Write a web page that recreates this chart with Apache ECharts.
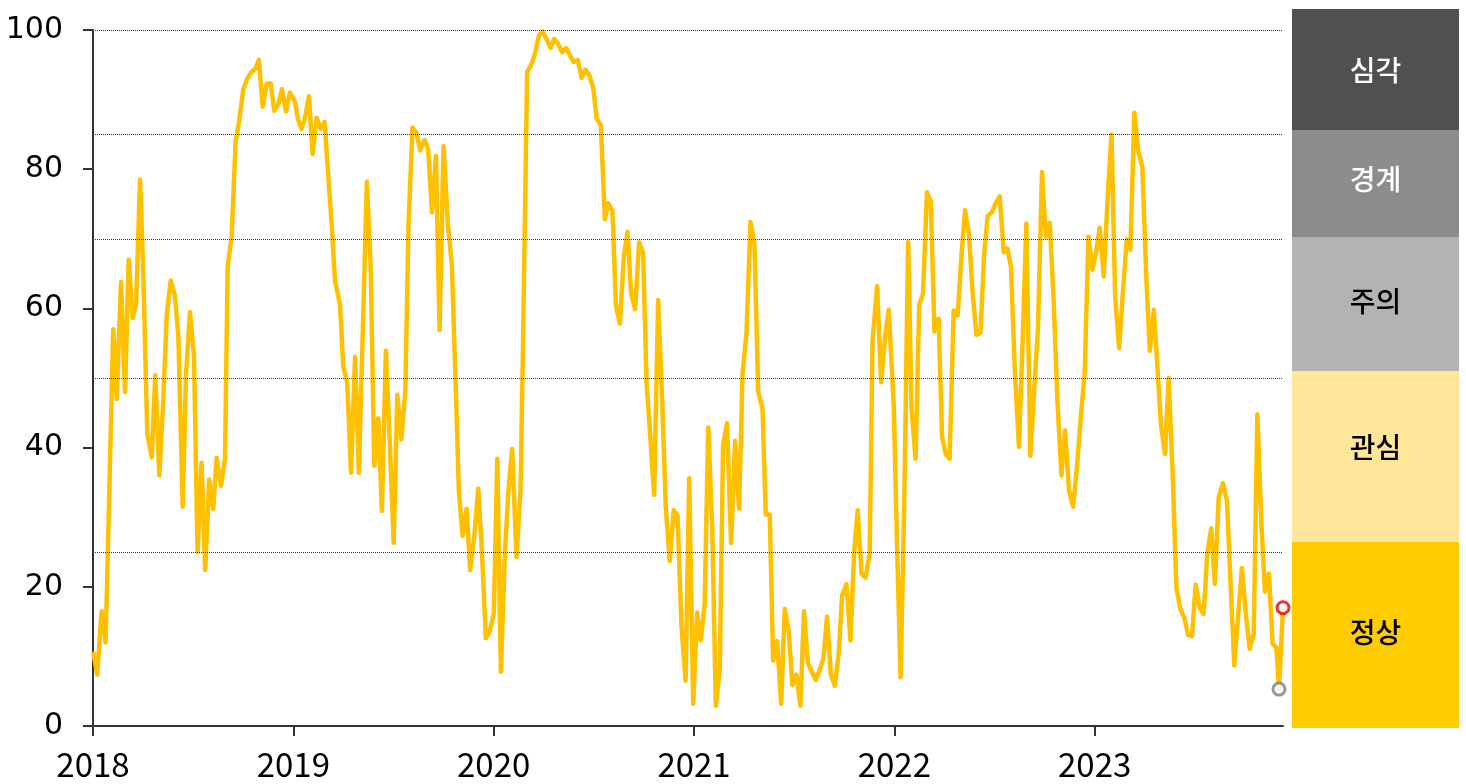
<!DOCTYPE html>
<html><head><meta charset="utf-8">
<script src="https://cdn.jsdelivr.net/npm/echarts@6/dist/echarts.min.js"></script>
<style>html,body{margin:0;padding:0;background:#fff}#c{width:1466px;height:784px}</style>
</head><body><div id="c"></div>
<script>
// [decimal year, index value]
const s2018 = [[2018.001,10.7],[2018.021,7.4],[2018.043,16.5],[2018.063,12],[2018.101,57],[2018.118,47],[2018.140,63.8],[2018.160,48],[2018.178,67],[2018.198,58.6],[2018.215,60.6],[2018.235,78.5],[2018.251,65],[2018.271,42],[2018.293,38.6],[2018.311,50.4],[2018.331,36],[2018.351,47],[2018.368,59],[2018.388,64],[2018.409,61.8],[2018.426,56],[2018.448,31.5],[2018.464,50.4],[2018.484,59.5],[2018.504,53.3],[2018.522,25],[2018.542,37.8],[2018.560,22.4],[2018.580,35.4],[2018.600,31.2],[2018.617,38.5],[2018.639,34.5],[2018.659,38.4],[2018.672,66],[2018.692,70.3],[2018.712,84],[2018.729,86.8],[2018.750,91.4],[2018.770,93],[2018.792,94],[2018.812,94.5],[2018.828,95.7],[2018.847,89],[2018.867,92.3],[2018.887,92.3],[2018.905,88.4],[2018.925,89.3],[2018.943,91.5],[2018.963,88.3],[2018.983,91]];
const s2019 = [[2019.008,89.7],[2019.024,87.1],[2019.041,85.8],[2019.058,87.4],[2019.078,90.5],[2019.096,82.2],[2019.116,87.4],[2019.136,85.8],[2019.156,86.8],[2019.174,79.3],[2019.191,72.2],[2019.208,64],[2019.233,60.5],[2019.249,51.7],[2019.269,49.4],[2019.288,36.4],[2019.308,53],[2019.327,36.4],[2019.349,59.1],[2019.367,78.2],[2019.386,66.3],[2019.404,37.4],[2019.424,44.2],[2019.442,30.9],[2019.462,53.9],[2019.482,40.3],[2019.501,26.3],[2019.519,47.6],[2019.539,41.2],[2019.559,48.1],[2019.575,72.2],[2019.595,86],[2019.615,85.2],[2019.633,82.7],[2019.655,84.2],[2019.673,82.9],[2019.692,73.8],[2019.712,81.9],[2019.730,56.9],[2019.750,83.3],[2019.771,72.2],[2019.791,66.3],[2019.810,49.4],[2019.826,33.8],[2019.845,27.3],[2019.865,31.2],[2019.883,22.4],[2019.903,27.3],[2019.923,34.1],[2019.941,25.3],[2019.961,12.6],[2019.981,13.6]];
const s2020 = [[2020.001,16.2],[2020.018,38.4],[2020.036,7.8],[2020.056,24.7],[2020.072,33.1],[2020.092,39.8],[2020.114,24.3],[2020.134,33.8],[2020.147,55.9],[2020.167,94],[2020.186,94.9],[2020.206,96.6],[2020.226,99.2],[2020.244,99.8],[2020.264,98.7],[2020.284,97.4],[2020.302,98.7],[2020.322,98],[2020.342,96.8],[2020.362,97.4],[2020.380,96.4],[2020.400,95.4],[2020.420,95.7],[2020.439,93.1],[2020.459,94.3],[2020.477,93.5],[2020.497,91.7],[2020.514,87.3],[2020.535,86.3],[2020.555,72.8],[2020.571,75.1],[2020.593,74],[2020.610,60.5],[2020.630,57.8],[2020.650,67.6],[2020.668,71],[2020.686,62.1],[2020.706,59.9],[2020.726,69.5],[2020.746,68],[2020.763,49.4],[2020.783,41],[2020.801,33.2],[2020.821,61.2],[2020.841,46.8],[2020.859,31.5],[2020.879,23.7],[2020.899,31],[2020.918,30.2],[2020.938,14.2],[2020.958,6.5],[2020.976,35.6],[2020.996,3.2]];
const s2021 = [[2021.016,16.3],[2021.034,12.3],[2021.053,17.5],[2021.071,42.9],[2021.091,28.6],[2021.109,2.9],[2021.129,8.4],[2021.145,40.3],[2021.165,43.5],[2021.185,26.3],[2021.205,41],[2021.225,31.2],[2021.242,50.4],[2021.262,56.5],[2021.282,72.4],[2021.302,69.2],[2021.320,48.1],[2021.342,45.6],[2021.358,30.4],[2021.378,30.4],[2021.395,9.4],[2021.415,12.2],[2021.435,3.2],[2021.453,16.8],[2021.473,13.6],[2021.491,5.9],[2021.511,7.4],[2021.531,2.9],[2021.549,16.5],[2021.569,9],[2021.588,7.8],[2021.608,6.6],[2021.628,8.1],[2021.646,9.7],[2021.664,15.7],[2021.683,7.4],[2021.703,5.8],[2021.723,10.7],[2021.739,18.7],[2021.761,20.4],[2021.781,12.3],[2021.799,24.8],[2021.817,31],[2021.836,21.9],[2021.856,21.3],[2021.877,24.8],[2021.891,55.2],[2021.914,63.2],[2021.934,49.4],[2021.954,55.9],[2021.972,59.8],[2021.997,46.1]];
const s2022 = [[2022.013,26.6],[2022.031,7],[2022.049,31.2],[2022.069,69.5],[2022.086,45.5],[2022.106,38.4],[2022.124,60.5],[2022.143,62.1],[2022.163,76.7],[2022.182,75.4],[2022.200,56.7],[2022.221,58.5],[2022.238,41.6],[2022.257,39],[2022.276,38.4],[2022.296,59.7],[2022.316,59],[2022.335,67.6],[2022.353,74.1],[2022.373,70.5],[2022.390,62.4],[2022.410,56.2],[2022.430,56.5],[2022.448,67.6],[2022.466,73.3],[2022.486,73.8],[2022.506,75.1],[2022.526,76.1],[2022.546,68.1],[2022.564,68.6],[2022.582,66],[2022.602,50.7],[2022.622,40.1],[2022.641,55.9],[2022.659,72.2],[2022.679,38.8],[2022.699,48.7],[2022.717,57.2],[2022.737,79.6],[2022.756,70.3],[2022.776,72.3],[2022.796,60.5],[2022.814,46.8],[2022.834,36],[2022.852,42.5],[2022.872,33.8],[2022.892,31.5],[2022.912,37.4],[2022.932,44.8],[2022.950,50.7],[2022.969,70.3],[2022.989,65.6]];
const s2023 = [[2023.009,68.4],[2023.025,71.6],[2023.045,64.6],[2023.064,75.4],[2023.084,85],[2023.102,61.8],[2023.122,54.3],[2023.141,62.4],[2023.160,69.9],[2023.178,68.4],[2023.198,88.1],[2023.218,82.6],[2023.238,80.3],[2023.258,64.2],[2023.275,53.9],[2023.295,59.8],[2023.315,50.7],[2023.331,43.2],[2023.351,39.1],[2023.369,50],[2023.389,36.4],[2023.408,19.8],[2023.428,16.8],[2023.448,15.5],[2023.466,13.1],[2023.486,12.9],[2023.504,20.3],[2023.524,17],[2023.544,16.1],[2023.562,24.8],[2023.582,28.4],[2023.600,20.4],[2023.619,32.8],[2023.640,34.9],[2023.660,32.4],[2023.679,20],[2023.697,8.7],[2023.715,15.5],[2023.735,22.7],[2023.754,16.2],[2023.774,11.1],[2023.794,13.3],[2023.812,44.8],[2023.832,29.2],[2023.850,19.3],[2023.870,21.9],[2023.888,11.8],[2023.907,11.3],[2023.920,5.3],[2023.940,17]];

const yearTicks = [2018, 2019, 2020, 2021, 2022, 2023];
const levelLines = [25, 50, 70, 85, 100];
const levelNames = ['심각', '경계', '주의', '관심', '정상'];
const levelColors = ['#505050', '#8C8C8C', '#B3B3B3', '#FFE699', '#FFCC00'];
const levelTextColors = ['#FFFFFF', '#FFFFFF', '#000000', '#000000', '#000000'];

const lineData = [].concat(s2018, s2019, s2020, s2021, s2022, s2023);
const prevPt = lineData[lineData.length - 2];
const lastPt = lineData[lineData.length - 1];

// layout of the legend column (pixels)
const box = { left: 1292, width: 167 };
const boxEdges = [9, 130, 237, 371, 542, 728];
const boxTextY = [70, 179, 301, 447, 632];

const graphics = [];
levelNames.forEach((name, i) => {
  graphics.push({
    type: 'rect', silent: true,
    shape: { x: box.left, y: boxEdges[i], width: box.width, height: boxEdges[i + 1] - boxEdges[i] },
    style: { fill: levelColors[i] }
  });
  graphics.push({
    type: 'text', silent: true,
    x: box.left + box.width / 2, y: boxTextY[i],
    style: { text: name, fill: levelTextColors[i], font: '500 28px "Noto Sans CJK KR"', align: 'center', verticalAlign: 'middle' }
  });
});

const chart = echarts.init(document.getElementById('c'), null, { renderer: 'canvas' });
chart.setOption({
  animation: false,
  backgroundColor: '#fff',
  grid: { left: 93, right: 183, top: 30, bottom: 58, containLabel: false },
  xAxis: {
    type: 'value', min: 2018, max: lastPt[0],
    axisLine: { show: true, lineStyle: { color: '#333', width: 2 } },
    axisTick: { show: true, customValues: yearTicks, length: 10, lineStyle: { color: '#333', width: 2 } },
    axisLabel: { customValues: yearTicks, formatter: v => String(Math.round(v)), color: '#000', fontSize: 33, fontFamily: 'Noto Sans CJK KR', margin: 22 },
    splitLine: { show: false }
  },
  yAxis: {
    type: 'value', min: 0, max: 100, interval: 20,
    axisLine: { show: true, lineStyle: { color: '#333', width: 2 } },
    axisTick: { show: true, length: 10, lineStyle: { color: '#333', width: 2 } },
    axisLabel: { color: '#000', fontSize: 30, fontFamily: 'DejaVu Sans', margin: 30 },
    splitLine: { show: false }
  },
  graphic: graphics,
  series: [
    {
      type: 'line', data: lineData, showSymbol: false, symbol: 'none', smooth: false,
      lineStyle: { color: '#FFC000', width: 4.5, join: 'round' },
      markLine: {
        silent: true, symbol: 'none', label: { show: false },
        lineStyle: { color: '#333', type: 'dotted', width: 1 },
        data: levelLines.map(v => ({ yAxis: v }))
      },
      z: 2
    },
    {
      type: 'scatter', symbol: 'circle', symbolSize: 12, z: 3,
      data: [
        { value: prevPt, itemStyle: { color: '#fff', borderColor: '#7F7F7F', borderWidth: 3 } },
        { value: lastPt, itemStyle: { color: '#fff', borderColor: '#E00000', borderWidth: 3 } }
      ]
    }
  ]
});
</script></body></html>
